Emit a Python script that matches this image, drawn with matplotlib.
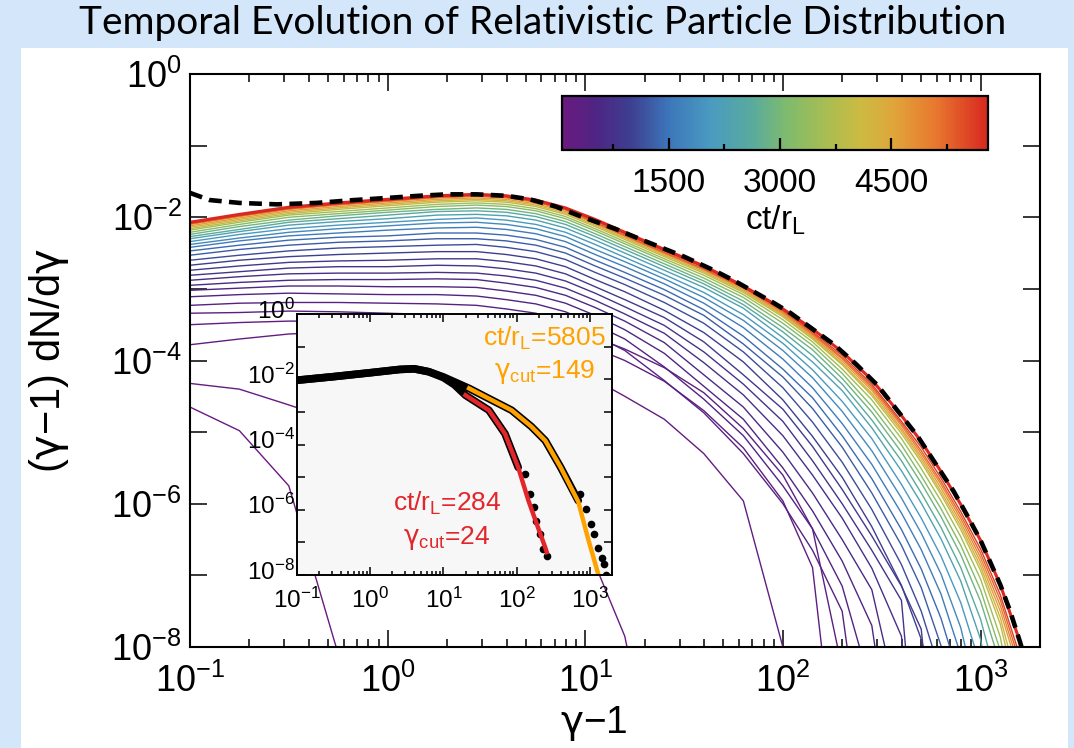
import numpy as np
import matplotlib
matplotlib.use('Agg')
import matplotlib.pyplot as plt
from matplotlib.cm import ScalarMappable
from matplotlib.colors import LinearSegmentedColormap, Normalize
from matplotlib.patches import Rectangle
from matplotlib.ticker import FixedLocator, FuncFormatter, LogLocator, NullLocator
from matplotlib.transforms import ScaledTranslation

plt.rcParams['font.family'] = ['Liberation Sans', 'DejaVu Sans']
plt.rcParams['mathtext.fontset'] = 'custom'
plt.rcParams['mathtext.rm'] = 'Liberation Sans'
plt.rcParams['mathtext.it'] = 'Liberation Sans:italic'
plt.rcParams['mathtext.bf'] = 'Liberation Sans:bold'
plt.rcParams['mathtext.sf'] = 'DejaVu Sans'

# ---- main panel: log10 spectra on a shared log10(gamma-1) grid
# each row stops at the first point below the bottom of the axes (1e-8)
log_gamma = [-1.0, -0.75, -0.5, -0.25, 0.0, 0.25, 0.45, 0.6, 0.75, 0.9, 1.05, 1.2, 1.4,
             1.6, 1.8, 2.0, 2.15, 2.3, 2.45, 2.6, 2.7, 2.8, 2.9, 3.0, 3.1, 3.2, 3.3]

snapshot_time = [70, 130, 190, 250, 320, 390, 460, 540, 620, 700, 790, 880,
                 980, 1100, 1250, 1400, 1600, 1800, 2050, 2300, 2600, 2900,
                 3200, 3550, 3900, 4250, 4600, 4950, 5300, 5600, 5805]

log_spectra = [
    [-4.65, -4.98, -5.75, -8.10],
    [-4.32, -4.40, -4.62, -4.85, -5.10, -5.35, -5.55, -5.72, -5.95, -6.25, -6.85, -7.85, -10.5],
    [-3.78, -3.70, -3.63, -3.60, -3.62, -3.68, -3.76, -3.84, -3.94, -4.06, -4.27, -4.50, -4.82, -5.30, -5.96, -8.00, -10.5],
    [-3.50, -3.47, -3.45, -3.45, -3.47, -3.50, -3.53, -3.57, -3.63, -3.72, -3.83, -4.00, -4.29, -4.70, -5.22, -5.96, -6.89, -10.5],
    [-3.34, -3.33, -3.31, -3.32, -3.34, -3.36, -3.39, -3.42, -3.47, -3.55, -3.68, -3.84, -4.10, -4.45, -4.95, -5.60, -6.35, -8.30],
    [-3.23, -3.20, -3.19, -3.19, -3.20, -3.21, -3.23, -3.28, -3.34, -3.45, -3.65, -3.86, -4.28, -4.73, -5.30, -6.00, -6.65, -7.50, -10.5],
    [-3.11, -3.08, -3.06, -3.07, -3.08, -3.08, -3.10, -3.15, -3.21, -3.32, -3.50, -3.70, -4.09, -4.54, -5.05, -5.75, -6.35, -7.15, -8.60],
    [-3.02, -2.99, -2.96, -2.96, -2.97, -2.97, -2.98, -3.03, -3.09, -3.20, -3.37, -3.57, -3.90, -4.36, -4.82, -5.50, -6.10, -6.80, -7.70, -10.5],
    [-2.95, -2.91, -2.88, -2.87, -2.87, -2.86, -2.87, -2.92, -2.98, -3.09, -3.26, -3.45, -3.75, -4.20, -4.65, -5.28, -5.85, -6.50, -7.20, -9.00],
    [-2.88, -2.83, -2.79, -2.78, -2.78, -2.77, -2.78, -2.82, -2.88, -2.99, -3.16, -3.35, -3.62, -4.03, -4.48, -5.05, -5.60, -6.20, -6.90, -7.85, -10.5],
    [-2.81, -2.76, -2.71, -2.69, -2.69, -2.67, -2.68, -2.72, -2.78, -2.89, -3.06, -3.25, -3.51, -3.88, -4.33, -4.85, -5.40, -6.00, -6.65, -7.35, -10.5],
    [-2.74, -2.68, -2.63, -2.61, -2.60, -2.58, -2.58, -2.62, -2.68, -2.79, -2.97, -3.15, -3.40, -3.74, -4.20, -4.68, -5.20, -5.80, -6.45, -7.15, -7.75, -10.5],
    [-2.67, -2.60, -2.55, -2.52, -2.50, -2.48, -2.48, -2.52, -2.58, -2.69, -2.87, -3.04, -3.30, -3.61, -4.02, -4.55, -5.06, -5.63, -6.32, -7.14, -7.89, -9.05],
    [-2.60, -2.53, -2.47, -2.43, -2.41, -2.39, -2.38, -2.42, -2.48, -2.59, -2.77, -2.94, -3.19, -3.48, -3.88, -4.38, -4.86, -5.42, -6.08, -6.85, -7.50, -8.38],
    [-2.53, -2.45, -2.39, -2.35, -2.33, -2.30, -2.30, -2.33, -2.39, -2.50, -2.68, -2.85, -3.09, -3.37, -3.77, -4.23, -4.67, -5.21, -5.85, -6.58, -7.17, -7.98, -9.40],
    [-2.47, -2.39, -2.32, -2.28, -2.26, -2.22, -2.22, -2.25, -2.31, -2.42, -2.60, -2.77, -3.01, -3.29, -3.66, -4.12, -4.52, -5.05, -5.65, -6.36, -6.91, -7.60, -8.50],
    [-2.42, -2.33, -2.26, -2.22, -2.18, -2.15, -2.14, -2.17, -2.23, -2.34, -2.52, -2.69, -2.93, -3.20, -3.54, -3.98, -4.38, -4.88, -5.45, -6.13, -6.64, -7.26, -8.11],
    [-2.38, -2.29, -2.21, -2.16, -2.12, -2.08, -2.07, -2.10, -2.16, -2.27, -2.45, -2.62, -2.86, -3.12, -3.44, -3.86, -4.24, -4.71, -5.26, -5.92, -6.41, -6.98, -7.73, -8.89],
    [-2.34, -2.24, -2.16, -2.11, -2.07, -2.03, -2.01, -2.04, -2.10, -2.21, -2.38, -2.56, -2.80, -3.05, -3.36, -3.76, -4.13, -4.57, -5.09, -5.73, -6.20, -6.73, -7.38, -8.26],
    [-2.30, -2.20, -2.11, -2.06, -2.02, -1.97, -1.96, -1.98, -2.04, -2.15, -2.32, -2.50, -2.74, -2.98, -3.27, -3.68, -4.02, -4.42, -4.94, -5.54, -5.99, -6.49, -7.08, -7.89, -9.31],
    [-2.27, -2.17, -2.07, -2.02, -1.97, -1.92, -1.91, -1.93, -1.99, -2.10, -2.27, -2.45, -2.69, -2.93, -3.22, -3.60, -3.93, -4.33, -4.83, -5.40, -5.85, -6.33, -6.89, -7.61, -8.64],
    [-2.24, -2.13, -2.04, -1.98, -1.93, -1.89, -1.87, -1.89, -1.95, -2.06, -2.23, -2.41, -2.65, -2.89, -3.17, -3.54, -3.85, -4.25, -4.72, -5.28, -5.71, -6.18, -6.71, -7.36, -8.24],
    [-2.21, -2.10, -2.00, -1.95, -1.90, -1.85, -1.83, -1.85, -1.91, -2.02, -2.19, -2.37, -2.61, -2.85, -3.12, -3.48, -3.79, -4.18, -4.64, -5.18, -5.61, -6.07, -6.58, -7.20, -8.05],
    [-2.18, -2.07, -1.97, -1.92, -1.87, -1.82, -1.80, -1.82, -1.88, -1.99, -2.16, -2.34, -2.58, -2.81, -3.08, -3.43, -3.74, -4.12, -4.55, -5.09, -5.51, -5.96, -6.46, -7.05, -7.86, -9.28],
    [-2.16, -2.05, -1.95, -1.89, -1.84, -1.79, -1.77, -1.79, -1.85, -1.96, -2.13, -2.31, -2.55, -2.78, -3.05, -3.39, -3.70, -4.06, -4.49, -5.02, -5.42, -5.87, -6.36, -6.93, -7.68, -8.84],
    [-2.14, -2.03, -1.93, -1.87, -1.82, -1.77, -1.75, -1.77, -1.83, -1.94, -2.11, -2.29, -2.53, -2.76, -3.03, -3.37, -3.68, -4.04, -4.46, -4.98, -5.38, -5.83, -6.31, -6.87, -7.59, -8.62],
    [-2.12, -2.01, -1.91, -1.85, -1.80, -1.75, -1.73, -1.75, -1.81, -1.92, -2.09, -2.27, -2.51, -2.74, -3.01, -3.35, -3.66, -4.01, -4.42, -4.95, -5.34, -5.78, -6.26, -6.81, -7.50, -8.40],
    [-2.10, -1.99, -1.89, -1.83, -1.78, -1.73, -1.71, -1.73, -1.79, -1.90, -2.08, -2.26, -2.50, -2.73, -2.99, -3.33, -3.64, -3.98, -4.39, -4.91, -5.30, -5.73, -6.21, -6.75, -7.42, -8.31],
    [-2.09, -1.98, -1.88, -1.82, -1.77, -1.72, -1.70, -1.72, -1.78, -1.89, -2.07, -2.25, -2.49, -2.72, -2.98, -3.31, -3.62, -3.96, -4.36, -4.88, -5.26, -5.69, -6.16, -6.69, -7.34, -8.22],
    [-2.08, -1.97, -1.87, -1.81, -1.76, -1.71, -1.69, -1.71, -1.77, -1.88, -2.05, -2.23, -2.47, -2.70, -2.96, -3.29, -3.60, -3.93, -4.33, -4.85, -5.21, -5.64, -6.11, -6.63, -7.27, -8.13],
    [-2.07, -1.96, -1.86, -1.80, -1.75, -1.70, -1.68, -1.70, -1.76, -1.87, -2.03, -2.21, -2.45, -2.68, -2.96, -3.28, -3.56, -3.88, -4.27, -4.77, -5.13, -5.55, -6.01, -6.51, -7.13, -7.93, -9.50],
]

# dashed model envelope
envelope_log_gamma = [-1.0, -0.9, -0.75, -0.56, -0.36, -0.17, 0.0, 0.16, 0.3, 0.45, 0.6,
                      0.72, 0.85, 0.97, 1.15, 1.3, 1.5, 1.65, 1.75, 1.95, 2.04, 2.15,
                      2.26, 2.37, 2.48, 2.58, 2.68, 2.77, 2.865, 2.93, 3.0, 3.05, 3.1,
                      3.15, 3.2, 3.25]
envelope_log_value = [-1.66, -1.76, -1.80, -1.82, -1.80, -1.76, -1.73, -1.70, -1.68, -1.68, -1.70,
                      -1.75, -1.85, -1.98, -2.16, -2.33, -2.55, -2.74, -2.88, -3.19, -3.34, -3.56,
                      -3.78, -4.05, -4.35, -4.70, -5.05, -5.43, -5.83, -6.15, -6.51, -6.82, -7.13,
                      -7.50, -7.93, -8.40]

# ---- inset: two snapshots (black data) and their cutoff fits
late_log_gamma = [-1.0, -0.5, 0.0, 0.4, 0.6, 0.8, 1.0, 1.15, 1.35, 1.6, 1.93, 2.2, 2.39, 2.6, 2.84]
late_log_value = [-2.03, -1.92, -1.80, -1.70, -1.68, -1.77, -1.93, -2.08, -2.28, -2.57, -2.95, -3.45, -3.88, -4.70, -5.72]
late_tail_log_gamma = [2.87, 2.95, 3.02, 3.06, 3.11, 3.16, 3.19, 3.22]
late_tail_log_value = [-5.52, -5.98, -6.44, -6.75, -7.16, -7.47, -7.67, -8.00]

early_log_gamma = [-1.0, -0.5, 0.0, 0.4, 0.6, 0.8, 1.0, 1.15, 1.3, 1.62, 1.84, 2.02]
early_log_value = [-2.03, -1.92, -1.80, -1.70, -1.68, -1.77, -1.95, -2.17, -2.49, -2.95, -3.67, -4.70]
early_tail_log_gamma = [2.11, 2.18, 2.23, 2.27, 2.32, 2.36, 2.42]
early_tail_log_value = [-4.90, -5.52, -5.93, -6.34, -6.75, -7.21, -7.42]

late_fit_log_gamma = [1.35, 1.6, 1.93, 2.2, 2.39, 2.6, 2.84, 2.97, 3.11, 3.14]
late_fit_log_value = [-2.28, -2.57, -2.95, -3.45, -3.88, -4.70, -5.75, -6.85, -7.95, -8.30]
early_fit_log_gamma = [1.30, 1.62, 1.84, 2.02, 2.16, 2.29, 2.39, 2.41]
early_fit_log_value = [-2.49, -2.95, -3.67, -4.70, -5.72, -6.54, -7.16, -7.30]

colorbar_ticks = [1500, 3000, 4500]
colorbar_minor_ticks = [750, 2250, 3750, 5250]
time_min, time_max = 60, 5805

cmap = LinearSegmentedColormap.from_list('evolution', [
    (0.00, '#6a1a80'), (0.08, '#4e2583'), (0.16, '#3d3f90'), (0.25, '#3c76ba'),
    (0.35, '#4a9bc0'), (0.45, '#5aab9c'), (0.53, '#80bb6c'), (0.62, '#a8bd52'),
    (0.70, '#cbbb43'), (0.78, '#e0a53a'), (0.88, '#e8772f'), (1.00, '#d8281f')])
norm = Normalize(time_min, time_max)

GAMMA = '$\\mathsf{\\gamma}$'


def pow10(values):
    return np.power(10.0, np.asarray(values, dtype=float))


def even_decades(v, pos):
    e = int(round(np.log10(v)))
    return f'$10^{{{e}}}$' if e % 2 == 0 else ''


def style_log_axes(a, labelsize, major_len, minor_len, xpad, ypad):
    a.set_xscale('log')
    a.set_yscale('log')
    a.set_xlim(0.1, 2000)
    a.set_ylim(1e-8, 1)
    a.yaxis.set_major_locator(FixedLocator(pow10(range(-8, 1))))
    a.yaxis.set_major_formatter(FuncFormatter(even_decades))
    a.yaxis.set_minor_locator(NullLocator())
    a.xaxis.set_major_locator(LogLocator(base=10, numticks=10))
    a.xaxis.set_minor_locator(LogLocator(base=10, subs=np.arange(2, 10), numticks=20))
    a.tick_params(which='both', direction='in', top=True, right=True, width=1.1, labelsize=labelsize)
    a.tick_params(which='major', length=major_len)
    a.tick_params(which='minor', length=minor_len)
    a.tick_params(axis='x', which='major', pad=xpad)
    a.tick_params(axis='y', which='major', pad=ypad)


fig = plt.figure(figsize=(10.74, 7.48), dpi=100, facecolor='#d4e7fa')
fig.patches.append(Rectangle((21 / 1074, 0), 1047 / 1074, 700 / 748, transform=fig.transFigure,
                             facecolor='white', edgecolor='none', zorder=-1))
fig.text(0.505, 0.969, 'Temporal Evolution of Relativistic Particle Distribution',
         ha='center', va='center', fontsize=28, family=['Lato', 'DejaVu Sans'])

ax = fig.add_axes([190 / 1074, 1 - 647 / 748, 850 / 1074, 573 / 748])
ax.set_xscale('log')
ax.set_yscale('log')

x_main = pow10(log_gamma)
for t, row in zip(snapshot_time, log_spectra):
    lw = 2.2 if t == snapshot_time[-1] else 1.0
    ax.plot(x_main[:len(row)], pow10(row), color=cmap(norm(t)), lw=lw)
ax.plot(pow10(envelope_log_gamma), pow10(envelope_log_value), color='black', lw=3.3,
        dashes=(2.8, 1.6), dash_capstyle='butt')

style_log_axes(ax, 26, 12, 6, 12, 6)
for s in ax.spines.values():
    s.set_linewidth(1.5)
ax.set_xlabel(GAMMA + '−1', fontsize=28)
ax.set_ylabel('(' + GAMMA + '−1) dN/d' + GAMMA, fontsize=30)
ax.xaxis.set_label_coords(0.475, -0.1)
ax.yaxis.set_label_coords(-0.14, 0.5)

# ---- colorbar
cax = fig.add_axes([562 / 1074, 1 - 150 / 748, 426 / 1074, 54 / 748])
cb = fig.colorbar(ScalarMappable(norm=norm, cmap=cmap), cax=cax, orientation='horizontal')
cb.set_ticks(colorbar_ticks)
cax.xaxis.set_minor_locator(FixedLocator(colorbar_minor_ticks))
cax.tick_params(which='both', direction='in', bottom=True, top=False, width=1.6, labelsize=24, pad=13)
cax.tick_params(which='major', length=8.5)
cax.tick_params(which='minor', length=4.5)
cb.outline.set_linewidth(1.6)
cb.set_label('ct/r$_\\mathrm{L}$', fontsize=24, labelpad=3)

# ---- inset
axin = fig.add_axes([297 / 1074, 1 - 575 / 748, 315 / 1074, 261 / 748])
axin.set_facecolor('#f7f7f7')
axin.set_xscale('log')
axin.set_yscale('log')
axin.plot(pow10(late_log_gamma), pow10(late_log_value), color='black', lw=5.5, solid_capstyle='round')
axin.plot(pow10(early_log_gamma), pow10(early_log_value), color='black', lw=5.5, solid_capstyle='round')
axin.plot(pow10(late_tail_log_gamma), pow10(late_tail_log_value), 'o', color='black', ms=4.5)
axin.plot(pow10(early_tail_log_gamma), pow10(early_tail_log_value), 'o', color='black', ms=4.5)
axin.plot(pow10(late_fit_log_gamma), pow10(late_fit_log_value), color='#ffa200', lw=3.2)
axin.plot(pow10(early_fit_log_gamma), pow10(early_fit_log_value), color='#e3262b', lw=3.2)
style_log_axes(axin, 17.5, 6, 3, 9, 1.5)
for s in axin.spines.values():
    s.set_linewidth(1.4)
# lift the inset y labels a little so they clear the x labels below
for lbl in axin.get_yticklabels():
    lbl.set_transform(lbl.get_transform() + ScaledTranslation(0, 4 / 72, fig.dpi_scale_trans))

axin.text(0.786, 0.908, 'ct/r$_\\mathrm{L}$=5805', transform=axin.transAxes, ha='center', va='center',
          fontsize=19, color='#ffa200')
axin.text(0.786, 0.778, GAMMA + '$_\\mathrm{cut}$=149', transform=axin.transAxes, ha='center',
          va='center', fontsize=19, color='#ffa200')
axin.text(0.476, 0.276, 'ct/r$_\\mathrm{L}$=284', transform=axin.transAxes, ha='center', va='center',
          fontsize=19, color='#e3262b')
axin.text(0.476, 0.142, GAMMA + '$_\\mathrm{cut}$=24', transform=axin.transAxes, ha='center',
          va='center', fontsize=19, color='#e3262b')

fig.savefig('out.png', dpi=100, facecolor=fig.get_facecolor())
